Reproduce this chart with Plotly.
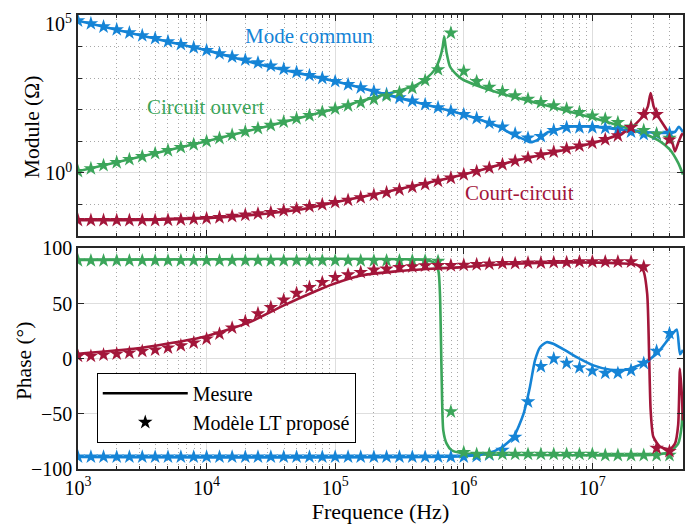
import plotly.graph_objects as go

# ---------------- data ----------------
# Model (star) frequencies, Hz
F_STAR = [1.00e3, 1.26e3, 1.58e3, 2.00e3, 2.51e3, 3.16e3, 3.98e3, 5.01e3, 6.31e3, 7.94e3,
          1.00e4, 1.26e4, 1.58e4, 2.00e4, 2.51e4, 3.16e4, 3.98e4, 5.01e4, 6.31e4, 7.94e4,
          1.00e5, 1.26e5, 1.58e5, 2.00e5, 2.51e5, 3.16e5, 3.98e5, 5.01e5, 6.31e5, 7.94e5,
          1.00e6, 1.26e6, 1.58e6, 2.00e6, 2.51e6, 3.16e6, 3.98e6, 5.01e6, 6.31e6, 7.94e6,
          1.00e7, 1.26e7, 1.58e7, 2.00e7, 2.51e7, 3.16e7, 3.98e7]

# Module, log10(Ohm), model stars
MOD_MC_STAR_LOG10 = [4.82, 4.73, 4.63, 4.54, 4.44, 4.35, 4.26, 4.16, 4.07, 3.97,
                     3.88, 3.78, 3.68, 3.58, 3.49, 3.39, 3.29, 3.19, 3.09, 3.00,
                     2.90, 2.80, 2.70, 2.59, 2.49, 2.38, 2.28, 2.17, 2.07, 1.96,
                     1.85, 1.73, 1.58, 1.46, 1.24, 1.11, 1.16, 1.35, 1.44, 1.44,
                     1.44, 1.42, 1.38, 1.30, 1.22, 1.22, 1.26]
MOD_CO_STAR_LOG10 = [0.05, 0.14, 0.24, 0.33, 0.43, 0.52, 0.62, 0.71, 0.81, 0.90,
                     1.00, 1.10, 1.20, 1.31, 1.41, 1.51, 1.62, 1.72, 1.82, 1.93,
                     2.03, 2.13, 2.23, 2.33, 2.44, 2.55, 2.69, 2.93, 3.27, 4.43,
                     3.22, 2.90, 2.72, 2.58, 2.45, 2.34, 2.23, 2.13, 2.03, 1.92,
                     1.81, 1.71, 1.60, 1.46, 1.35, 1.24, 1.10]
MOD_CC_STAR_LOG10 = [-1.50, -1.50, -1.50, -1.50, -1.50, -1.50, -1.50, -1.49, -1.48, -1.46,
                     -1.44, -1.41, -1.37, -1.33, -1.29, -1.25, -1.19, -1.13, -1.06, -1.00,
                     -0.93, -0.86, -0.78, -0.70, -0.62, -0.53, -0.45, -0.36, -0.26, -0.16,
                     -0.05, 0.05, 0.16, 0.27, 0.38, 0.48, 0.58, 0.67, 0.77, 0.86,
                     0.95, 1.06, 1.18, 1.44, 1.85, 1.85, 1.05]

# Phase, degrees, model stars
PH_MC_STAR = [-89] * 31 + [-88.5, -87, -83, -71, -39, -7, 0, -4, -8,
                           -11, -13, -13, -10.5, -4, 7, 23]
PH_CO_STAR = [89] * 28 + [88.5, -48, -85, -86.5, -86.5, -86.5, -86.5, -86.5, -86.5, -86.5, -86.5, -86.5,
                          -86.5, -87.5, -87.5, -87.5, -87.5, -87.5, -87.5]
PH_CC_STAR = [2.4, 2.4, 3.6, 4.5, 5.4, 6.9, 8.1, 9.9, 12.0, 14.5,
              18.0, 22.6, 28.0, 34.0, 41.0, 46.7, 53.3, 59.4, 64.8, 69.3,
              73.8, 76.2, 78.4, 80.5, 81.4, 82.9, 83.5, 84.4, 84.6, 84.6,
              85.0, 85.5, 86.0, 86.5, 86.5, 87.0, 87.0, 87.4, 87.4, 88.0,
              88.0, 88.0, 88.0, 88.0, 83.5, -81.0, -84.0]

# Measured curves (Mesure)
F_MC_MOD = [1e3, 2.86e3, 1e4, 2.6e4, 1e5, 2.97e5, 1e6, 1.51e6, 1.97e6, 2.41e6, 2.99e6, 3.27e6,
            3.69e6, 4.41e6, 5.28e6, 6.46e6, 1.01e7, 1.29e7, 1.85e7, 2.64e7, 4.01e7, 4.4e7,
            4.7e7, 5.07e7]
MOD_MC_LOG10 = [4.82, 4.38, 3.88, 3.43, 2.90, 2.40, 1.85, 1.61, 1.42, 1.21, 1.05, 0.97,
                1.03, 1.27, 1.37, 1.46, 1.46, 1.42, 1.35, 1.29, 1.27, 1.30,
                1.46, 1.29]

F_CO_MOD = [1e3, 1e4, 1e5, 1.56e5, 2.97e5, 4.3e5, 5.14e5, 5.95e5, 6.53e5, 6.85e5, 7.05e5,
            7.2e5, 7.36e5, 7.81e5, 8.81e5, 9.9e5, 1.51e6, 2.41e6, 3.92e6, 6.46e6, 1.02e7,
            1.85e7, 2.64e7, 3.36e7, 4.01e7, 4.65e7, 5.07e7]
MOD_CO_LOG10 = [0.05, 1.00, 2.03, 2.27, 2.58, 2.79, 3.00, 3.27, 3.64, 3.98, 4.32,
                4.05, 3.80, 3.37, 3.11, 2.95, 2.66, 2.41, 2.19, 1.95, 1.74,
                1.42, 1.21, 1.00, 0.74, 0.32, -0.05]

F_CC_MOD = [1e3, 3e3, 1e4, 2.9e4, 5.3e4, 1e5, 2.97e5, 9.3e5, 2.44e6, 6.5e6, 1.02e7, 1.59e7,
            2.0e7, 2.49e7, 2.7e7, 2.84e7, 3.0e7, 3.25e7, 3.78e7, 4.14e7, 4.39e7, 4.65e7,
            4.95e7, 5.07e7]
MOD_CC_LOG10 = [-1.50, -1.49, -1.43, -1.29, -1.16, -0.93, -0.53, -0.08, 0.37, 0.76, 0.95, 1.21,
                1.42, 1.81, 2.10, 2.53, 2.10, 1.79, 1.37, 1.05, 0.68, 0.95,
                1.21, 1.25]

F_MC_PH = [1e3, 1e6, 1.51e6, 1.97e6, 2.44e6, 2.92e6, 3.27e6, 3.58e6, 3.92e6, 4.41e6, 4.96e6,
           6.5e6, 7.55e6, 1.02e7, 1.38e7, 1.85e7, 2.49e7, 3.17e7, 4.01e7, 4.53e7, 4.81e7, 5.07e7]
PH_MC = [-89, -88.5, -86, -80.5, -70.8, -49.7, -25.6, -1.5, 10.5, 15, 13.6,
         6.0, 1.5, -6, -10, -10, -3.9, 4.5, 19.6, 26.5, 4, 8]

F_CO_PH = [1e3, 5e5, 5.8e5, 6.34e5, 6.53e5, 6.73e5, 6.93e5, 7.36e5, 8.05e5, 9.33e5, 1.2e6,
           2e6, 3e7, 4.01e7, 4.65e7, 4.95e7, 5.07e7]
PH_CO = [89.5, 89.5, 87.4, 80, 58.8, -16, -65, -77, -83, -85.3, -86.5,
         -87, -87, -84.4, -77, -61, -31.6]

F_CC_PH = [1e3, 2.7e3, 4.9e3, 1e4, 2.17e4, 3.95e4, 7.17e4, 9.67e4, 1.56e5, 2.83e5, 5.14e5,
           9.33e5, 2.16e6, 6.5e6, 1.64e7, 2.21e7, 2.49e7, 2.67e7, 2.77e7, 2.84e7, 2.98e7,
           3.36e7, 4.01e7, 4.39e7, 4.65e7, 4.8e7, 4.95e7, 5.07e7]
PH_CC = [4.5, 9.0, 13.6, 20.5, 33.2, 48.2, 61.7, 67.8, 75.3, 79.0, 81.4,
         82.9, 85.9, 87.4, 86.5, 85.3, 80.0, 58.8, -1.5, -46.7, -70.8,
         -79.8, -82.0, -77.0, -60.0, -9.0, -30.0, -56.0]

SERIES_NAMES = ["Mode commun", "Circuit ouvert", "Court-circuit"]
LEGEND_LABELS = ["Mesure", "Modèle LT proposé"]
AXIS_TITLES = ["Module (Ω)", "Phase (°)", "Frequence (Hz)"]
X_TICKS = [1e3, 1e4, 1e5, 1e6, 1e7]
X_TICKTEXT = ["10<sup>3</sup>", "10<sup>4</sup>", "10<sup>5</sup>", "10<sup>6</sup>", "10<sup>7</sup>"]
Y1_TICKS = [1, 1e5]
Y1_TICKTEXT = ["10<sup>0</sup>", ""]
Y1_TOP_LABEL = "10<sup>5</sup>"
Y1_MINOR = [1e-2, 1e-1, 1e1, 1e2, 1e3, 1e4]
Y2_TICKS = [-100, -50, 0, 50, 100]

# ---------------- style ----------------
BLUE = "#1584d6"
GREEN = "#3ba55a"
RED = "#a3163a"
FONT = "Liberation Serif"
AXC = "#262626"
DOT = "1px,3px"
FS = 20
MS = 11


def pw(vals):
    return [10 ** v for v in vals]


fig = go.Figure()

# top: module
for f, v, c in [(F_MC_MOD, MOD_MC_LOG10, BLUE), (F_CO_MOD, MOD_CO_LOG10, GREEN), (F_CC_MOD, MOD_CC_LOG10, RED)]:
    fig.add_trace(go.Scatter(x=f, y=pw(v), mode="lines", line=dict(color=c, width=2.6, shape="spline", smoothing=0.6),
                             xaxis="x", yaxis="y", showlegend=False))
for v, c in [(MOD_MC_STAR_LOG10, BLUE), (MOD_CO_STAR_LOG10, GREEN), (MOD_CC_STAR_LOG10, RED)]:
    fig.add_trace(go.Scatter(x=F_STAR, y=pw(v), mode="markers",
                             marker=dict(symbol="star", size=MS, color=c, line=dict(width=0)),
                             xaxis="x", yaxis="y", showlegend=False))

# bottom: phase
for f, v, c in [(F_MC_PH, PH_MC, BLUE), (F_CO_PH, PH_CO, GREEN), (F_CC_PH, PH_CC, RED)]:
    fig.add_trace(go.Scatter(x=f, y=v, mode="lines", line=dict(color=c, width=2.6, shape="spline", smoothing=0.6),
                             xaxis="x2", yaxis="y2", showlegend=False))
for v, c in [(PH_MC_STAR, BLUE), (PH_CO_STAR, GREEN), (PH_CC_STAR, RED)]:
    fig.add_trace(go.Scatter(x=F_STAR, y=v, mode="markers",
                             marker=dict(symbol="star", size=MS, color=c, line=dict(width=0)),
                             xaxis="x2", yaxis="y2", showlegend=False))

# legend entries
fig.add_trace(go.Scatter(x=[None], y=[None], mode="lines", name=LEGEND_LABELS[0],
                         line=dict(color="black", width=2.6), xaxis="x2", yaxis="y2"))
fig.add_trace(go.Scatter(x=[None], y=[None], mode="markers", name=LEGEND_LABELS[1],
                         marker=dict(symbol="star", size=MS, color="black"), xaxis="x2", yaxis="y2"))

XR = [3, 7.705]
common_x = dict(type="log", range=XR, tickvals=X_TICKS, ticktext=X_TICKTEXT, automargin=False,
                ticks="inside", ticklen=6, tickcolor=AXC, tickwidth=1, ticklabeloverflow="allow",
                showline=True, linecolor=AXC, linewidth=1.5, mirror="allticks",
                showgrid=True, gridcolor="#dedede", gridwidth=1, zeroline=False,
                minor=dict(dtick="D1", ticks="inside", ticklen=3, tickcolor=AXC,
                           showgrid=True, gridcolor="#a8a8a8", griddash=DOT, gridwidth=1),
                tickfont=dict(family=FONT, size=FS, color="black"))

# the page body adds an 8 px offset, so the figure is 8 px smaller and margins shifted
fig.update_layout(
    template="none",
    width=686, height=521,
    margin=dict(l=70, r=11, t=7, b=60),
    paper_bgcolor="white", plot_bgcolor="white",
    font=dict(family=FONT, size=FS, color="black"),
    xaxis=dict(common_x, anchor="y", domain=[0, 1], showticklabels=False),
    xaxis2=dict(common_x, anchor="y2", domain=[0, 1],
                title=dict(text=AXIS_TITLES[2], font=dict(family=FONT, size=22), standoff=6)),
    yaxis=dict(type="log", range=[-2, 5], domain=[0.513, 1], anchor="x", automargin=False,
               tickvals=Y1_TICKS, ticktext=Y1_TICKTEXT, ticklabeloverflow="allow",
               ticks="inside", ticklen=6, tickcolor=AXC,
               showline=True, linecolor=AXC, linewidth=1.5, mirror="allticks",
               showgrid=True, gridcolor="#dedede", zeroline=False,
               minor=dict(tickmode="array", tickvals=Y1_MINOR, ticks="inside", ticklen=4, tickcolor=AXC,
                          showgrid=True, gridcolor="#a8a8a8", griddash=DOT, gridwidth=1),
               tickfont=dict(family=FONT, size=FS, color="black")),
    yaxis2=dict(range=[-100, 100], domain=[0, 0.4857], anchor="x2", automargin=False,
                tickvals=Y2_TICKS, ticks="inside", ticklen=6, tickcolor=AXC, ticklabeloverflow="allow",
                showline=True, linecolor=AXC, linewidth=1.5, mirror="allticks",
                showgrid=True, gridcolor="#dedede", zeroline=False,
                tickfont=dict(family=FONT, size=FS, color="black")),
    legend=dict(x=0.031, y=0.212, xanchor="left", yanchor="top",
                bgcolor="white", bordercolor="black", borderwidth=1,
                font=dict(family=FONT, size=20, color="black"), itemwidth=85,
                tracegroupgap=0),
    showlegend=True,
)

# top tick label of the module axis (kept inside the page)
fig.add_annotation(x=-0.006, y=1.0125, xref="paper", yref="paper", text=Y1_TOP_LABEL, showarrow=False,
                   xanchor="right", yanchor="top", font=dict(family=FONT, size=FS, color="black"))

# y-axis titles
fig.add_annotation(x=-0.076, y=0.753, xref="paper", yref="paper", text=AXIS_TITLES[0], textangle=-90,
                   showarrow=False, xanchor="center", yanchor="middle", font=dict(family=FONT, size=21.5))
fig.add_annotation(x=-0.089, y=0.238, xref="paper", yref="paper", text=AXIS_TITLES[1], textangle=-90,
                   showarrow=False, xanchor="center", yanchor="middle", font=dict(family=FONT, size=21.5))

# curve labels
fig.add_annotation(x=4.796, y=4.345, xref="x", yref="y", text=SERIES_NAMES[0], showarrow=False,
                   font=dict(family=FONT, size=21, color=BLUE))
fig.add_annotation(x=3.995, y=2.10, xref="x", yref="y", text=SERIES_NAMES[1], showarrow=False,
                   font=dict(family=FONT, size=21, color=GREEN))
fig.add_annotation(x=6.437, y=-0.62, xref="x", yref="y", text=SERIES_NAMES[2], showarrow=False,
                   font=dict(family=FONT, size=21, color=RED))

fig.write_html("out.html")
